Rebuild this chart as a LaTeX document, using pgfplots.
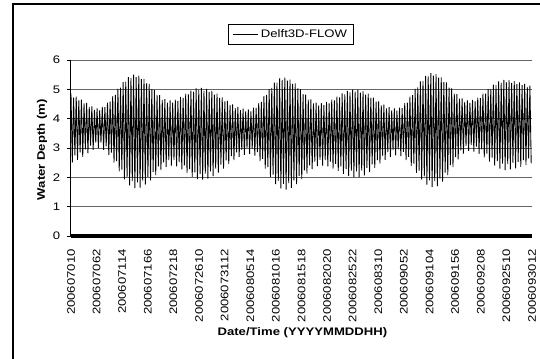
\documentclass[border=0pt]{standalone}
\usepackage{fontspec}
\setmainfont{Liberation Sans}
\usepackage{graphicx}
\usepackage{pgfplots}
\usepackage{pgfplotstable}
\pgfplotsset{compat=1.18}
\newcommand{\sx}[1]{\scalebox{1.2}[1]{#1}}
\pgfplotstableread[row sep=\\]{
y\\
4.85\\2.50\\4.72\\2.75\\4.75\\2.60\\4.62\\2.85\\4.65\\2.70\\4.52\\2.95\\4.54\\2.82\\4.40\\3.08\\4.42\\2.94\\4.30\\3.18\\
4.35\\3.00\\4.28\\3.18\\4.40\\2.94\\4.39\\3.06\\4.55\\2.76\\4.58\\2.84\\4.77\\2.50\\4.81\\2.55\\5.02\\2.20\\5.06\\2.26\\
5.25\\1.93\\5.26\\2.02\\5.42\\1.73\\5.39\\1.87\\5.50\\1.63\\5.42\\1.83\\5.47\\1.65\\5.35\\1.89\\5.36\\1.75\\5.20\\2.02\\
5.19\\1.90\\5.01\\2.19\\4.98\\2.08\\4.81\\2.37\\4.80\\2.25\\4.64\\2.51\\4.67\\2.36\\4.55\\2.59\\4.62\\2.40\\4.55\\2.59\\
4.65\\2.37\\4.61\\2.52\\4.74\\2.27\\4.71\\2.41\\4.85\\2.14\\4.83\\2.28\\4.96\\2.02\\4.92\\2.17\\5.03\\1.94\\4.97\\2.12\\
5.05\\1.92\\4.96\\2.13\\5.02\\1.96\\4.91\\2.20\\4.95\\2.04\\4.82\\2.30\\4.85\\2.16\\4.71\\2.43\\4.73\\2.30\\4.59\\2.58\\
4.61\\2.45\\4.47\\2.72\\4.49\\2.59\\4.36\\2.85\\4.40\\2.70\\4.29\\2.94\\4.34\\2.77\\4.25\\2.99\\4.32\\2.80\\4.25\\2.98\\
4.38\\2.74\\4.37\\2.86\\4.54\\2.55\\4.57\\2.63\\4.77\\2.30\\4.81\\2.35\\5.01\\2.02\\5.05\\2.09\\5.23\\1.77\\5.23\\1.88\\
5.37\\1.62\\5.32\\1.78\\5.40\\1.58\\5.30\\1.80\\5.33\\1.64\\5.19\\1.90\\5.20\\1.77\\5.03\\2.05\\5.01\\1.94\\4.84\\2.24\\
4.82\\2.13\\4.65\\2.41\\4.66\\2.28\\4.52\\2.54\\4.55\\2.38\\4.45\\2.60\\4.53\\2.40\\4.46\\2.59\\4.57\\2.37\\4.52\\2.54\\
4.65\\2.30\\4.62\\2.46\\4.75\\2.21\\4.73\\2.37\\4.86\\2.12\\4.83\\2.28\\4.95\\2.05\\4.90\\2.22\\4.99\\2.01\\4.92\\2.20\\
4.99\\2.01\\4.89\\2.23\\4.94\\2.07\\4.82\\2.32\\4.85\\2.18\\4.71\\2.44\\4.72\\2.32\\4.58\\2.59\\4.59\\2.47\\4.45\\2.74\\
4.48\\2.60\\4.35\\2.86\\4.39\\2.70\\4.28\\2.93\\4.35\\2.75\\4.27\\2.95\\4.38\\2.72\\4.36\\2.87\\4.53\\2.59\\4.55\\2.70\\
4.75\\2.39\\4.80\\2.47\\5.02\\2.15\\5.07\\2.23\\5.27\\1.92\\5.29\\2.03\\5.46\\1.75\\5.44\\1.90\\5.55\\1.67\\5.47\\1.87\\
5.52\\1.70\\5.40\\1.96\\5.41\\1.85\\5.25\\2.16\\5.24\\2.08\\5.06\\2.42\\5.03\\2.35\\4.85\\2.69\\4.84\\2.61\\4.68\\2.92\\
4.69\\2.81\\4.57\\3.07\\4.62\\2.90\\4.54\\3.10\\4.64\\2.88\\4.59\\3.05\\4.72\\2.80\\4.70\\2.95\\4.85\\2.68\\4.85\\2.81\\
5.01\\2.54\\5.01\\2.67\\5.16\\2.40\\5.14\\2.55\\5.27\\2.30\\5.22\\2.47\\5.32\\2.25\\5.24\\2.45\\5.31\\2.27\\5.22\\2.49\\
5.28\\2.31\\5.18\\2.53\\5.24\\2.36\\5.14\\2.59\\5.19\\2.42\\5.08\\2.65\\5.13\\2.48\\
}\tide
\begin{document}
\begin{tikzpicture}
\useasboundingbox (-53.25pt,-91.5pt) rectangle (351.75pt,177pt);
\draw[black, line width=1.1pt] (-43.5pt,-120pt) -- (-43.5pt,174pt) -- (420pt,174pt);
\begin{axis}[
  scale only axis,
  width=345.75pt, height=132pt,
  clip=false,
  xmin=0, xmax=353.61,
  ymin=0, ymax=6,
  ytick={0,1,2,3,4,5,6},
  yticklabel={\sx{\pgfmathprintnumber{\tick}}},
  xtick={0,19.645,39.29,58.935,78.58,98.225,117.87,137.515,157.16,176.805,196.45,216.095,235.74,255.385,275.03,294.675,314.32,333.965,353.61},
  xticklabels={\sx{200607010},\sx{200607062},\sx{200607114},\sx{200607166},\sx{200607218},\sx{2006072610},\sx{2006073112},\sx{2006080514},\sx{2006081016},\sx{2006081518},\sx{2006082020},\sx{2006082522},\sx{200608310},\sx{200609052},\sx{200609104},\sx{200609156},\sx{200609208},\sx{2006092510},\sx{2006093012}},
  axis x line*=bottom, axis y line*=left,
  axis line style={-, black, line width=0.75pt},
  xtick style={draw=none},
  ytick style={black, line width=0.75pt},
  tick align=outside,
  major tick length=3pt,
  ymajorgrids,
  major grid style={black!60, line width=0.75pt},
  /pgf/number format/assume math mode=true,
  every tick label/.append style={font=\fontsize{8.2}{9.8}\selectfont},
  xticklabel style={rotate=90, anchor=east, inner sep=0pt, xshift=-6.75pt},
  yticklabel style={xshift=-1.5pt},
  xlabel={\sx{Date/Time (YYYYMMDDHH)}},
  ylabel={\sx{Water Depth (m)}},
  xlabel style={font=\fontsize{8.2}{9.8}\selectfont\bfseries, at={(axis description cs:0.502,-0.551)}, anchor=center},
  ylabel style={font=\fontsize{8.2}{9.8}\selectfont\bfseries, at={(axis description cs:-0.0629,0.49)}, anchor=center},
  legend style={at={(axis description cs:0.477,1.145)}, anchor=center, draw=black, line width=0.6pt,
    font=\fontsize{8.2}{9.8}\selectfont, inner xsep=3pt, inner ysep=2pt},
  legend cell align=left,
  legend image code/.code={\draw[black, line width=0.6pt] (0pt,0pt) -- (19pt,0pt);},
]
\addplot[black, line width=0.65pt] table[x expr=\coordindex, y=y] {\tide};
\addlegendentry{\sx{Delft3D-FLOW}}
\addplot[black, line width=3.4pt, forget plot] coordinates {(0,0) (353.61,0)};
\end{axis}
\end{tikzpicture}
\end{document}
